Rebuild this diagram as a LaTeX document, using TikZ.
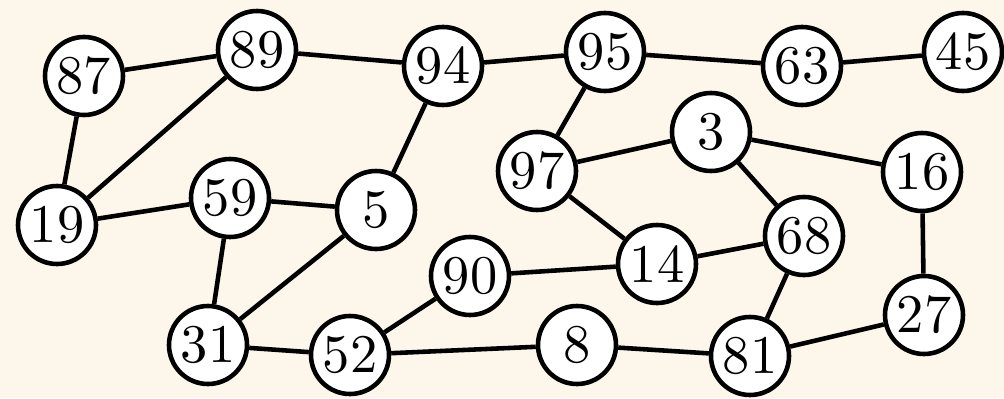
\documentclass[tikz,border=0pt]{standalone}
\usepackage{fontspec}
\usepackage{tikz}
\usepackage{xcolor}
\usetikzlibrary{positioning}
\newfontfamily\numfont{lmroman10-regular}[Extension=.otf]
\definecolor{gcream}{HTML}{FDF6EA}
\tikzset{
  numNode/.style={circle, draw=black, fill=white, line width=1.3pt, minimum size=0.78cm, inner sep=0pt, font=\numfont\fontsize{15.5}{18}\selectfont},
  numEdge/.style={draw=black, line width=1.3pt}
}
\begin{document}
\begin{tikzpicture}[x=1cm,y=1cm]
  \fill[gcream] (0,0) rectangle (10.04,3.98);
  \useasboundingbox (0,0) rectangle (10.04,3.98);
  % top row
  \node[numNode] (n87) at (0.84,3.22) {87};
  \node[numNode] (n89) at (2.57,3.48) {89};
  \node[numNode] (n94) at (4.43,3.32) {94};
  \node[numNode] (n95) at (6.05,3.46) {95};
  \node[numNode] (n63) at (8.02,3.32) {63};
  \node[numNode] (n45) at (9.63,3.46) {45};
  % middle
  \node[numNode] (n3) at (7.11,2.66) {3};
  \node[numNode] (n97) at (5.37,2.27) {97};
  \node[numNode] (n16) at (9.22,2.26) {16};
  \node[numNode] (n19) at (0.57,1.73) {19};
  \node[numNode] (n59) at (2.30,2.00) {59};
  \node[numNode] (n5) at (3.76,1.88) {5};
  \node[numNode] (n68) at (8.04,1.62) {68};
  \node[numNode] (n14) at (6.57,1.34) {14};
  \node[numNode] (n90) at (4.70,1.22) {90};
  % bottom row
  \node[numNode] (n27) at (9.24,0.83) {27};
  \node[numNode] (n31) at (2.08,0.53) {31};
  \node[numNode] (n52) at (3.50,0.43) {52};
  \node[numNode] (n8) at (5.77,0.53) {8};
  \node[numNode] (n81) at (7.50,0.42) {81};
  % edges
  \draw[numEdge] (n87) -- (n89);
  \draw[numEdge] (n87) -- (n19);
  \draw[numEdge] (n89) -- (n19);
  \draw[numEdge] (n89) -- (n94);
  \draw[numEdge] (n94) -- (n95);
  \draw[numEdge] (n94) -- (n5);
  \draw[numEdge] (n95) -- (n63);
  \draw[numEdge] (n95) -- (n97);
  \draw[numEdge] (n63) -- (n45);
  \draw[numEdge] (n97) -- (n3);
  \draw[numEdge] (n97) -- (n14);
  \draw[numEdge] (n3) -- (n16);
  \draw[numEdge] (n3) -- (n68);
  \draw[numEdge] (n19) -- (n59);
  \draw[numEdge] (n59) -- (n5);
  \draw[numEdge] (n59) -- (n31);
  \draw[numEdge] (n5) -- (n31);
  \draw[numEdge] (n31) -- (n52);
  \draw[numEdge] (n52) -- (n90);
  \draw[numEdge] (n52) -- (n8);
  \draw[numEdge] (n90) -- (n14);
  \draw[numEdge] (n14) -- (n68);
  \draw[numEdge] (n68) -- (n81);
  \draw[numEdge] (n8) -- (n81);
  \draw[numEdge] (n81) -- (n27);
  \draw[numEdge] (n27) -- (n16);
\end{tikzpicture}
\end{document}
